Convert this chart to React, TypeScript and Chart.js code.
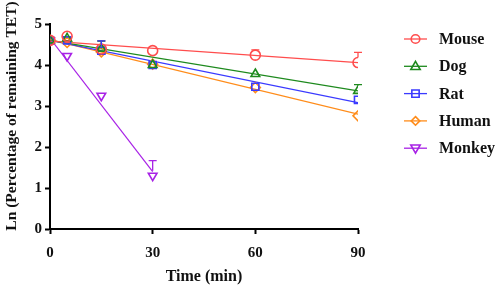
import React, { useEffect, useRef } from "react";
import { Chart, registerables } from "chart.js";
Chart.register(...registerables);

const times = [0, 5, 15, 30, 60, 90];
const monkeyTimes = [0, 5, 15, 30];
const seriesNames = ["Mouse", "Dog", "Rat", "Human", "Monkey"];
const colors = ["#ff4d4d", "#1e8a1e", "#3a3aff", "#ff8c1a", "#a822e6"];
const mouse = [4.6, 4.7, 4.39, 4.35, 4.24, 4.06];
const dog = [4.6, 4.65, 4.4, 4.0, 3.78, 3.37];
const rat = [4.6, 4.6, 4.35, 4.0, 3.47, 3.15];
const human = [4.6, 4.55, 4.32, 4.02, 3.45, 2.76];
const monkey = [4.6, 4.22, 3.25, 1.3];
const mouseErr = [0.04, 0.12, 0.2, 0.05, 0.13, 0.25];
const dogErr = [0.04, 0.12, 0.18, 0.06, 0.08, 0.15];
const ratErr = [0.04, 0.1, 0.24, 0.08, 0.06, 0.05];
const humanErr = [0.03, 0.05, 0.06, 0.05, 0.05, 0.05];
const monkeyErr = [0.04, 0.05, 0.05, 0.37];
// fitted regression lines (start at 0 min, end at last time)
const fitMouse = [4.58, 4.06];
const fitDog = [4.6, 3.37];
const fitRat = [4.6, 3.08];
const fitHuman = [4.62, 2.8];
const fitMonkey = [4.65, 1.4];
const xTicks = [0, 30, 60, 90];
const yTicks = [0, 1, 2, 3, 4, 5];
const xTitle = "Time (min)";
const yTitle = "Ln (Percentage of remaining TET)";

const styles: any[] = ["circle", "triangle", "rect", "rectRot", "triangle"];
const rotations = [0, 0, 0, 0, 180];
const SERIF = "'Liberation Serif', 'Times New Roman', serif";

function drawMarker(ctx: CanvasRenderingContext2D, style: string, rot: number, x: number, y: number, r: number) {
  ctx.save();
  ctx.translate(x, y);
  ctx.rotate((rot * Math.PI) / 180);
  ctx.beginPath();
  if (style === "circle") ctx.arc(0, 0, r, 0, Math.PI * 2);
  else if (style === "triangle") {
    const s = r * 1.15;
    ctx.moveTo(0, -s);
    ctx.lineTo(s * 0.95, s * 0.65);
    ctx.lineTo(-s * 0.95, s * 0.65);
    ctx.closePath();
  } else if (style === "rect") ctx.rect(-r * 0.85, -r * 0.85, r * 1.7, r * 1.7);
  else if (style === "rectRot") {
    ctx.moveTo(0, -r);
    ctx.lineTo(r, 0);
    ctx.lineTo(0, r);
    ctx.lineTo(-r, 0);
    ctx.closePath();
  }
  ctx.stroke();
  ctx.restore();
}

export default function App() {
  const ref = useRef<HTMLCanvasElement>(null);
  useEffect(() => {
    const values = [mouse, dog, rat, human, monkey];
    const errs = [mouseErr, dogErr, ratErr, humanErr, monkeyErr];
    const fits = [fitMouse, fitDog, fitRat, fitHuman, fitMonkey];
    const xsFor = (i: number) => (i === 4 ? monkeyTimes : times);
    const datasets: any[] = [];
    fits.forEach((f, i) => {
      const xs = xsFor(i);
      datasets.push({
        label: "fit" + i,
        data: [
          { x: xs[0], y: f[0] },
          { x: xs[xs.length - 1], y: f[1] },
        ],
        borderColor: colors[i],
        borderWidth: 1.2,
        pointRadius: 0,
        showLine: true,
        order: 2,
      });
    });
    values.forEach((v, i) => {
      const xs = xsFor(i);
      datasets.push({
        label: seriesNames[i],
        data: v.map((y, j) => ({ x: xs[j], y })),
        borderColor: colors[i],
        backgroundColor: "rgba(0,0,0,0)",
        pointStyle: styles[i],
        pointRotation: rotations[i],
        pointRadius: 5,
        pointBorderWidth: 1.6,
        showLine: false,
        order: 1,
      });
    });

    const errorPlugin = {
      id: "errs",
      afterDatasetsDraw(chart: any) {
        const ctx = chart.ctx;
        const xs = chart.scales.x;
        const ys = chart.scales.y;
        ctx.save();
        errs.forEach((e, i) => {
          const tx = xsFor(i);
          ctx.strokeStyle = colors[i];
          ctx.lineWidth = 1.3;
          e.forEach((err, j) => {
            const px = xs.getPixelForValue(tx[j]);
            const py0 = ys.getPixelForValue(values[i][j]);
            const py1 = ys.getPixelForValue(values[i][j] + err);
            if (py0 - py1 < 5) return;
            ctx.beginPath();
            ctx.moveTo(px, py0 - 5);
            ctx.lineTo(px, py1);
            ctx.moveTo(px - 4, py1);
            ctx.lineTo(px + 4, py1);
            ctx.stroke();
          });
        });
        ctx.restore();
      },
    };

    const legendPlugin = {
      id: "legendCustom",
      afterDraw(chart: any) {
        const ctx = chart.ctx;
        ctx.save();
        seriesNames.forEach((n, i) => {
          const y = 39 + i * 27.3;
          ctx.strokeStyle = colors[i];
          ctx.lineWidth = 1.3;
          ctx.beginPath();
          ctx.moveTo(404, y);
          ctx.lineTo(427, y);
          ctx.stroke();
          ctx.lineWidth = 1.6;
          drawMarker(ctx, styles[i], rotations[i], 415.5, y, 4.3);
          ctx.fillStyle = "#111";
          ctx.font = "bold 16px " + SERIF;
          ctx.textBaseline = "middle";
          ctx.textAlign = "left";
          ctx.fillText(n, 439, y + 1);
        });
        // y-axis title
        ctx.save();
        ctx.translate(12, 116);
        ctx.rotate(-Math.PI / 2);
        ctx.font = "bold 15.5px " + SERIF;
        ctx.textAlign = "center";
        ctx.textBaseline = "middle";
        ctx.fillStyle = "#111";
        ctx.fillText(yTitle, 0, 0);
        ctx.restore();
        ctx.restore();
      },
    };

    const font = { family: SERIF, weight: "bold" as const, size: 15 };
    const chart = new Chart(ref.current!, {
      type: "scatter",
      data: { datasets },
      plugins: [errorPlugin, legendPlugin],
      options: {
        animation: false,
        responsive: false,
        maintainAspectRatio: false,
        layout: { padding: { top: 24, right: 140, left: 0, bottom: 0 } },
        plugins: { legend: { display: false }, tooltip: { enabled: false } },
        scales: {
          x: {
            type: "linear",
            min: 0,
            max: 90,
            afterBuildTicks: (s: any) => {
              s.ticks = xTicks.map((v) => ({ value: v }));
            },
            afterFit: (s: any) => {
              s.height = 57;
            },
            grid: { drawOnChartArea: false, tickLength: 5, tickWidth: 2, color: "#000" },
            border: { color: "#000", width: 2 },
            ticks: { color: "#111", font, padding: 10, maxRotation: 0 },
            title: { display: true, text: xTitle, color: "#111", font: { ...font, size: 16 }, padding: { top: 4, bottom: 0 } },
          },
          y: {
            type: "linear",
            min: 0,
            max: 5,
            afterBuildTicks: (s: any) => {
              s.ticks = yTicks.map((v) => ({ value: v }));
            },
            afterFit: (s: any) => {
              s.width = 50;
            },
            grid: { drawOnChartArea: false, tickLength: 5, tickWidth: 2, color: "#000" },
            border: { color: "#000", width: 2 },
            ticks: { color: "#111", font, padding: 3 },
            title: { display: false },
          },
        },
      },
    });
    return () => chart.destroy();
  }, []);
  return (
    <div style={{ position: "fixed", left: 0, top: 0, width: 498, height: 286, background: "#fff" }}>
      <canvas ref={ref} width={498} height={286} style={{ width: 498, height: 286 }} />
    </div>
  );
}
